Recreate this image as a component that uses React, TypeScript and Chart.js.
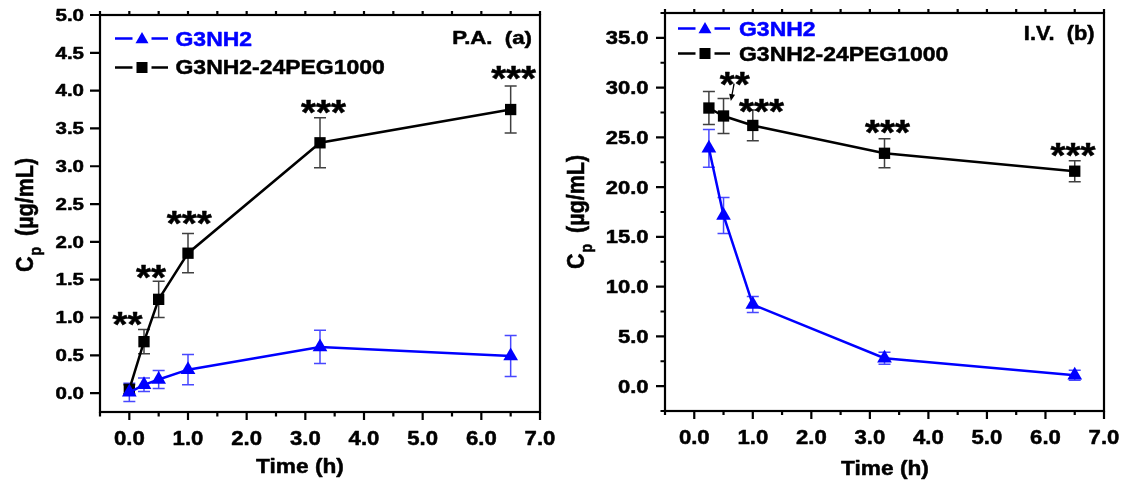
import React, { useEffect, useRef } from 'react';
import { Chart, registerables } from 'chart.js';

Chart.register(...registerables);

const FONT = '"Liberation Sans", Arial, Helvetica, sans-serif';
const BLUE = '#0000ff';
const BLACK = '#000000';
const BLUE_ERR = 'rgba(40,40,255,0.85)';
const BLACK_ERR = 'rgba(30,30,30,0.85)';
const TEXT_STROKE = 0.5;

// ---------- Panel (a): P.A. ----------
const timeA = [0, 0.25, 0.5, 1, 3.25, 6.5];
const g3A = [0.01, 0.11, 0.18, 0.31, 0.61, 0.49];
const g3ErrA = [0.12, 0.09, 0.12, 0.2, 0.22, 0.27];
const pegA = [0.05, 0.68, 1.24, 1.85, 3.31, 3.75];
const pegErrA = [0.06, 0.16, 0.24, 0.26, 0.33, 0.31];
const starTextA = ['**', '**', '***', '***', '***'];
const starXA = [-0.03, 0.37, 1.02, 3.31, 6.55];
const starYA = [1.035, 1.65, 2.37, 3.83, 4.28];
const yTickValA = [0, 0.5, 1, 1.5, 2, 2.5, 3, 3.5, 4, 4.5, 5];
const yTickLabA = ['0.0', '0.5', '1.0', '1.5', '2.0', '2.5', '3.0', '3.5', '4.0', '4.5', '5.0'];
const yMinorA: number[] = [];

// ---------- Panel (b): I.V. ----------
const timeB = [0.25, 0.5, 1, 3.25, 6.5];
const g3B = [23.9, 17.15, 8.2, 2.8, 1.1];
const g3ErrB = [1.9, 1.8, 0.8, 0.6, 0.5];
const pegB = [27.95, 27.15, 26.2, 23.4, 21.6];
const pegErrB = [1.65, 1.75, 1.55, 1.45, 1.05];
const starTextB = ['**', '***', '***', '***'];
const starXB = [0.69, 1.15, 3.3, 6.47];
const starYB = [31.3, 28.6, 26.4, 24.1];
const arrowB = [0.68, 30.4, 0.625, 28.65];
const yTickValB = [0, 5, 10, 15, 20, 25, 30, 35];
const yTickLabB = ['0.0', '5.0', '10.0', '15.0', '20.0', '25.0', '30.0', '35.0'];
const yMinorB = [-2.5, 2.5, 7.5, 12.5, 17.5, 22.5, 27.5, 32.5, 37.5];

// ---------- shared ----------
const xTickVal = [0, 1, 2, 3, 4, 5, 6, 7];
const xTickLab = ['0.0', '1.0', '2.0', '3.0', '4.0', '5.0', '6.0', '7.0'];
const xMinor = [-0.5, 0.5, 1.5, 2.5, 3.5, 4.5, 5.5, 6.5];
const seriesNames = ['G3NH2', 'G3NH2-24PEG1000'];

type Panel = {
  time: number[]; g3: number[]; g3Err: number[]; peg: number[]; pegErr: number[];
  starText: string[]; starX: number[]; starY: number[]; arrow?: number[];
  yMin: number; yMax: number; yTicks: number[]; yLabels: string[]; yMinor: number[];
  tag: string;
  L: any;
};

function txt(ctx: CanvasRenderingContext2D, s: string, x: number, y: number, size: number, sx: number,
  align: CanvasTextAlign = 'left', color = BLACK) {
  ctx.save();
  ctx.translate(x, y);
  ctx.scale(sx, 1);
  ctx.font = `bold ${size}px ${FONT}`;
  ctx.fillStyle = color;
  ctx.strokeStyle = color;
  ctx.lineWidth = TEXT_STROKE;
  ctx.lineJoin = 'round';
  ctx.textAlign = align;
  ctx.textBaseline = 'alphabetic';
  ctx.fillText(s, 0, 0);
  ctx.strokeText(s, 0, 0);
  ctx.restore();
}

function tri(ctx: CanvasRenderingContext2D, cx: number, cy: number, r: number, color: string) {
  const h = r * Math.sin(Math.PI / 3);
  ctx.beginPath();
  ctx.moveTo(cx, cy - r);
  ctx.lineTo(cx + h, cy + r / 2);
  ctx.lineTo(cx - h, cy + r / 2);
  ctx.closePath();
  ctx.fillStyle = color;
  ctx.fill();
}

function makePlugin(P: Panel) {
  const L = P.L;
  return {
    id: 'frame',
    beforeDatasetsDraw(chart: any) {
      const ctx: CanvasRenderingContext2D = chart.ctx;
      const xs = chart.scales.x, ys = chart.scales.y;
      const bars = (vals: number[], errs: number[], color: string) => {
        ctx.save();
        ctx.strokeStyle = color;
        ctx.lineWidth = 1.5;
        P.time.forEach((t, i) => {
          const px = xs.getPixelForValue(t);
          const top = ys.getPixelForValue(vals[i] + errs[i]);
          const bot = ys.getPixelForValue(vals[i] - errs[i]);
          ctx.beginPath();
          ctx.moveTo(px, top); ctx.lineTo(px, bot);
          ctx.moveTo(px - 6, top); ctx.lineTo(px + 6, top);
          ctx.moveTo(px - 6, bot); ctx.lineTo(px + 6, bot);
          ctx.stroke();
        });
        ctx.restore();
      };
      bars(P.peg, P.pegErr, BLACK_ERR);
      bars(P.g3, P.g3Err, BLUE_ERR);
    },
    afterDatasetsDraw(chart: any) {
      const ctx: CanvasRenderingContext2D = chart.ctx;
      const xs = chart.scales.x, ys = chart.scales.y;
      const a = chart.chartArea;
      ctx.save();
      ctx.strokeStyle = BLACK;
      ctx.lineWidth = 2.2;
      ctx.strokeRect(a.left, a.top, a.right - a.left, a.bottom - a.top);
      ctx.beginPath();
      xTickVal.forEach((v) => {
        const px = xs.getPixelForValue(v);
        ctx.moveTo(px, a.bottom); ctx.lineTo(px, a.bottom + L.xMajor);
        ctx.moveTo(px, a.top); ctx.lineTo(px, a.top - 4);
      });
      xMinor.forEach((v) => {
        const px = xs.getPixelForValue(v);
        ctx.moveTo(px, a.bottom); ctx.lineTo(px, a.bottom + L.xMinorLen);
        ctx.moveTo(px, a.top); ctx.lineTo(px, a.top - 4);
      });
      P.yTicks.forEach((v) => {
        const py = ys.getPixelForValue(v);
        ctx.moveTo(a.left, py); ctx.lineTo(a.left - L.yMajor, py);
      });
      P.yMinor.forEach((v) => {
        const py = ys.getPixelForValue(v);
        ctx.moveTo(a.left, py); ctx.lineTo(a.left - L.yMinorLen, py);
      });
      ctx.stroke();
      ctx.restore();

      // tick labels
      xTickVal.forEach((v, i) => {
        txt(ctx, xTickLab[i], xs.getPixelForValue(v), L.xTickBase, L.xTickSize, L.xTickSx, 'center');
      });
      P.yTicks.forEach((v, i) => {
        txt(ctx, P.yLabels[i], L.yTickRight, ys.getPixelForValue(v) + L.yTickSize * 0.36, L.yTickSize, L.yTickSx, 'right');
      });

      // axis titles
      txt(ctx, 'Time (h)', L.xTitleX, L.xTitleBase, L.titleSize, L.titleSx, 'center');
      ctx.save();
      ctx.translate(L.yTitleBaseX, L.yTitleCY);
      ctx.rotate(-Math.PI / 2);
      ctx.scale(1, L.yTitleSx);
      ctx.fillStyle = BLACK;
      ctx.strokeStyle = BLACK;
      ctx.lineWidth = TEXT_STROKE;
      ctx.textBaseline = 'alphabetic';
      ctx.textAlign = 'left';
      const fBig = `bold ${L.yTitleSize}px ${FONT}`;
      const fSmall = `bold ${Math.round(L.yTitleSize * 0.65)}px ${FONT}`;
      ctx.font = fBig;
      const wC = ctx.measureText('C').width;
      const rest = '  (\u00b5g/mL)';
      const wR = ctx.measureText(rest).width;
      ctx.font = fSmall;
      const wp = ctx.measureText('p').width;
      let x0 = -(wC + wp + wR) / 2;
      ctx.font = fBig;
      ctx.fillText('C', x0, 0); ctx.strokeText('C', x0, 0); x0 += wC + 1;
      ctx.font = fSmall;
      ctx.fillText('p', x0, L.yTitleSize * 0.32); ctx.strokeText('p', x0, L.yTitleSize * 0.32); x0 += wp - 1;
      ctx.font = fBig;
      ctx.fillText(rest, x0, 0); ctx.strokeText(rest, x0, 0);
      ctx.restore();

      // legend
      const rows = [
        { color: BLUE, shape: 'tri' },
        { color: BLACK, shape: 'sq' },
      ];
      rows.forEach((r, i) => {
        const y = L.legRowY[i];
        ctx.save();
        ctx.strokeStyle = r.color;
        ctx.lineWidth = 2.5;
        ctx.beginPath();
        ctx.moveTo(L.legX0, y); ctx.lineTo(L.legXC - 9.5, y);
        ctx.moveTo(L.legXC + 9.5, y); ctx.lineTo(L.legX1, y);
        ctx.stroke();
        if (r.shape === 'tri') tri(ctx, L.legXC, y + 1, 7.5, r.color);
        else { ctx.fillStyle = r.color; ctx.fillRect(L.legXC - 5.5, y - 5.5, 11, 11); }
        ctx.restore();
        txt(ctx, seriesNames[i], L.legTextX, L.legBase[i], L.legSize, L.legSx, 'left', r.color);
      });
      txt(ctx, P.tag, L.tagRight, L.tagBase, L.tagSize, L.tagSx, 'right');

      // significance stars
      P.starText.forEach((s, i) => {
        const px = xs.getPixelForValue(P.starX[i]);
        const py = ys.getPixelForValue(P.starY[i]);
        txt(ctx, s, px, py + L.starSize * 0.6, L.starSize, L.starSx, 'center');
      });
      if (P.arrow) {
        const [ax0, ay0, ax1, ay1] = P.arrow;
        const x0p = xs.getPixelForValue(ax0), y0p = ys.getPixelForValue(ay0);
        const x1p = xs.getPixelForValue(ax1), y1p = ys.getPixelForValue(ay1);
        const ang = Math.atan2(y1p - y0p, x1p - x0p);
        ctx.save();
        ctx.strokeStyle = BLACK; ctx.fillStyle = BLACK; ctx.lineWidth = 1.3;
        ctx.beginPath(); ctx.moveTo(x0p, y0p); ctx.lineTo(x1p - 4 * Math.cos(ang), y1p - 4 * Math.sin(ang)); ctx.stroke();
        ctx.beginPath();
        ctx.moveTo(x1p, y1p);
        ctx.lineTo(x1p - 7 * Math.cos(ang) + 3 * Math.sin(ang), y1p - 7 * Math.sin(ang) - 3 * Math.cos(ang));
        ctx.lineTo(x1p - 7 * Math.cos(ang) - 3 * Math.sin(ang), y1p - 7 * Math.sin(ang) + 3 * Math.cos(ang));
        ctx.closePath(); ctx.fill();
        ctx.restore();
      }
    },
  };
}

const panelA: Panel = {
  time: timeA, g3: g3A, g3Err: g3ErrA, peg: pegA, pegErr: pegErrA,
  starText: starTextA, starX: starXA, starY: starYA,
  yMin: -0.25, yMax: 5, yTicks: yTickValA, yLabels: yTickLabA, yMinor: yMinorA,
  tag: 'P.A.  (a)',
  L: {
    left: 0, width: 560, plotLeft: 100, plotRight: 540, plotTop: 15, plotBottom: 412,
    xMajor: 8, xMinorLen: 4.5, yMajor: 10, yMinorLen: 5,
    xTickBase: 445, xTickSize: 20.5, xTickSx: 1.08,
    yTickRight: 84, yTickSize: 16, yTickSx: 1.28,
    xTitleX: 300, xTitleBase: 473, titleSize: 21, titleSx: 1.08,
    yTitleBaseX: 33, yTitleCY: 215, yTitleSize: 21.5, yTitleSx: 1.15,
    legX0: 115, legXC: 142, legX1: 168, legTextX: 175.5, legRowY: [38.5, 67.5], legBase: [46, 74],
    legSize: 20.5, legSx: 1.12,
    tagRight: 532, tagBase: 44, tagSize: 18.5, tagSx: 1.2,
    starSize: 35, starSx: 1.1,
  },
};

const panelB: Panel = {
  time: timeB, g3: g3B, g3Err: g3ErrB, peg: pegB, pegErr: pegErrB,
  starText: starTextB, starX: starXB, starY: starYB, arrow: arrowB,
  yMin: -2.5, yMax: 37.5, yTicks: yTickValB, yLabels: yTickLabB, yMinor: yMinorB,
  tag: 'I.V.  (b)',
  L: {
    left: 560, width: 565, plotLeft: 105, plotRight: 544, plotTop: 13, plotBottom: 411,
    xMajor: 8, xMinorLen: 4, yMajor: 9, yMinorLen: 4.5,
    xTickBase: 443.5, xTickSize: 20.5, xTickSx: 1.08,
    yTickRight: 88.5, yTickSize: 18, yTickSx: 1.22,
    xTitleX: 325, xTitleBase: 475, titleSize: 21, titleSx: 1.08,
    yTitleBaseX: 24, yTitleCY: 212, yTitleSize: 21.5, yTitleSx: 1.15,
    legX0: 118, legXC: 145, legX1: 170, legTextX: 179, legRowY: [28.5, 53.5], legBase: [36, 61],
    legSize: 20.5, legSx: 1.12,
    tagRight: 534.5, tagBase: 39.5, tagSize: 20, tagSx: 1.09,
    starSize: 35, starSx: 1.1,
  },
};

function PanelChart({ P }: { P: Panel }) {
  const ref = useRef<HTMLCanvasElement | null>(null);
  useEffect(() => {
    if (!ref.current) return;
    const L = P.L;
    const chart = new Chart(ref.current, {
      type: 'line',
      data: {
        datasets: [
          {
            label: seriesNames[0],
            data: P.time.map((t, i) => ({ x: t, y: P.g3[i] })),
            borderColor: BLUE, backgroundColor: BLUE, borderWidth: 2.5,
            pointStyle: 'triangle', pointRadius: 8.5, pointBorderWidth: 0,
            pointBackgroundColor: BLUE, tension: 0,
          },
          {
            label: seriesNames[1],
            data: P.time.map((t, i) => ({ x: t, y: P.peg[i] })),
            borderColor: BLACK, backgroundColor: BLACK, borderWidth: 2.5,
            pointStyle: 'rect', pointRadius: 8, pointBorderWidth: 0,
            pointBackgroundColor: BLACK, tension: 0,
          },
        ],
      },
      options: {
        animation: false,
        responsive: false,
        maintainAspectRatio: false,
        events: [],
        layout: { padding: { top: L.plotTop, right: L.width - L.plotRight, left: 0, bottom: 0 } },
        plugins: { legend: { display: false }, tooltip: { enabled: false } },
        scales: {
          x: {
            type: 'linear', min: -0.5, max: 7,
            ticks: { display: false }, grid: { display: false }, border: { display: false },
            afterFit: (s: any) => { s.height = 481 - L.plotBottom; },
          },
          y: {
            type: 'linear', min: P.yMin, max: P.yMax,
            ticks: { display: false }, grid: { display: false }, border: { display: false },
            afterFit: (s: any) => { s.width = L.plotLeft; },
          },
        },
      } as any,
      plugins: [makePlugin(P)],
    });
    return () => chart.destroy();
  }, [P]);
  return (
    <canvas
      ref={ref}
      width={P.L.width}
      height={481}
      style={{ position: 'absolute', left: P.L.left, top: 0, width: P.L.width, height: 481 }}
    />
  );
}

export default function App() {
  return (
    <div style={{ position: 'fixed', left: 0, top: 0, width: 1125, height: 481, background: '#fff', overflow: 'hidden' }}>
      <PanelChart P={panelA} />
      <PanelChart P={panelB} />
    </div>
  );
}
